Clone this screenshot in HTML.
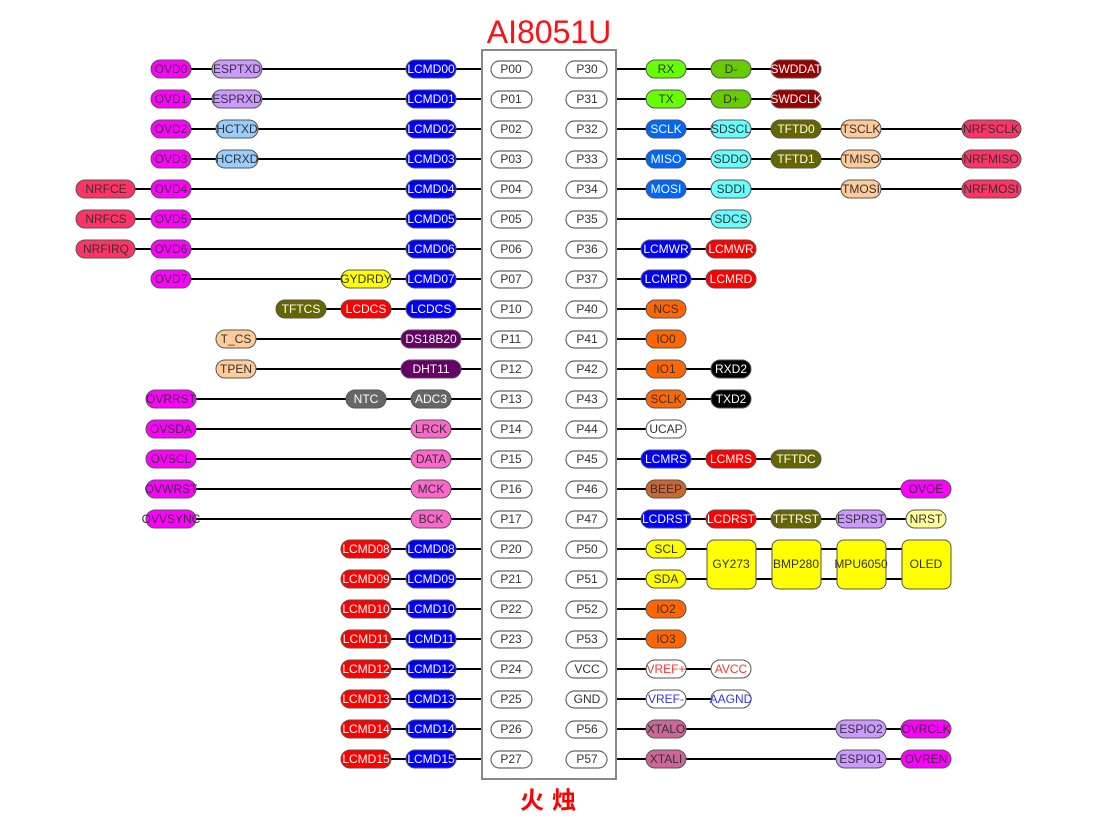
<!DOCTYPE html>
<html><head><meta charset="utf-8"><style>
html,body{margin:0;padding:0;background:#fff;}
svg{display:block;}
text{font-family:"Liberation Sans",Arial,sans-serif;font-size:12px;text-anchor:middle;dominant-baseline:central;}
.p rect{stroke:#555;stroke-width:1;}
.l{stroke:#000;stroke-width:2;}
</style></head><body>
<svg width="1103" height="827" viewBox="0 0 1103 827" xmlns="http://www.w3.org/2000/svg">
<text x="549" y="32" style="font-size:32px;fill:#ff1010">AI8051U</text>
<text x="552" y="798" style="font-size:24px;font-weight:bold;fill:#ff0000;letter-spacing:8px;font-family:'Noto Sans CJK SC','WenQuanYi Zen Hei',sans-serif">火烛</text>

<!-- left lines -->
<g class="l">
<line x1="171" y1="69" x2="482" y2="69"/>
<line x1="171" y1="99" x2="482" y2="99"/>
<line x1="171" y1="129" x2="482" y2="129"/>
<line x1="171" y1="159" x2="482" y2="159"/>
<line x1="106" y1="189" x2="482" y2="189"/>
<line x1="106" y1="219" x2="482" y2="219"/>
<line x1="106" y1="249" x2="482" y2="249"/>
<line x1="171" y1="279" x2="482" y2="279"/>
<line x1="301" y1="309" x2="482" y2="309"/>
<line x1="236" y1="339" x2="482" y2="339"/>
<line x1="236" y1="369" x2="482" y2="369"/>
<line x1="171" y1="399" x2="482" y2="399"/>
<line x1="171" y1="429" x2="482" y2="429"/>
<line x1="171" y1="459" x2="482" y2="459"/>
<line x1="171" y1="489" x2="482" y2="489"/>
<line x1="171" y1="519" x2="482" y2="519"/>
<line x1="366" y1="549" x2="482" y2="549"/>
<line x1="366" y1="579" x2="482" y2="579"/>
<line x1="366" y1="609" x2="482" y2="609"/>
<line x1="366" y1="639" x2="482" y2="639"/>
<line x1="366" y1="669" x2="482" y2="669"/>
<line x1="366" y1="699" x2="482" y2="699"/>
<line x1="366" y1="729" x2="482" y2="729"/>
<line x1="366" y1="759" x2="482" y2="759"/>
<!-- right -->
<line x1="616" y1="69" x2="796" y2="69"/>
<line x1="616" y1="99" x2="796" y2="99"/>
<line x1="616" y1="129" x2="991" y2="129"/>
<line x1="616" y1="159" x2="991" y2="159"/>
<line x1="616" y1="189" x2="991" y2="189"/>
<line x1="616" y1="219" x2="731" y2="219"/>
<line x1="616" y1="249" x2="731" y2="249"/>
<line x1="616" y1="279" x2="731" y2="279"/>
<line x1="616" y1="309" x2="666" y2="309"/>
<line x1="616" y1="339" x2="666" y2="339"/>
<line x1="616" y1="369" x2="731" y2="369"/>
<line x1="616" y1="399" x2="731" y2="399"/>
<line x1="616" y1="429" x2="666" y2="429"/>
<line x1="616" y1="459" x2="796" y2="459"/>
<line x1="616" y1="489" x2="926" y2="489"/>
<line x1="616" y1="519" x2="926" y2="519"/>
<line x1="616" y1="549" x2="940" y2="549"/>
<line x1="616" y1="579" x2="940" y2="579"/>
<line x1="616" y1="609" x2="666" y2="609"/>
<line x1="616" y1="639" x2="666" y2="639"/>
<line x1="616" y1="669" x2="731" y2="669"/>
<line x1="616" y1="699" x2="731" y2="699"/>
<line x1="616" y1="729" x2="926" y2="729"/>
<line x1="616" y1="759" x2="926" y2="759"/>
</g>

<!-- chip -->
<rect x="482" y="50" width="134" height="729" fill="#fff" stroke="#888" stroke-width="2"/>
<g fill="#fff" stroke="#666" stroke-width="1.2">
<rect x="491" y="61" width="41" height="17" rx="8.5"/><rect x="566" y="61" width="41" height="17" rx="8.5"/>
<rect x="491" y="91" width="41" height="17" rx="8.5"/><rect x="566" y="91" width="41" height="17" rx="8.5"/>
<rect x="491" y="121" width="41" height="17" rx="8.5"/><rect x="566" y="121" width="41" height="17" rx="8.5"/>
<rect x="491" y="151" width="41" height="17" rx="8.5"/><rect x="566" y="151" width="41" height="17" rx="8.5"/>
<rect x="491" y="181" width="41" height="17" rx="8.5"/><rect x="566" y="181" width="41" height="17" rx="8.5"/>
<rect x="491" y="211" width="41" height="17" rx="8.5"/><rect x="566" y="211" width="41" height="17" rx="8.5"/>
<rect x="491" y="241" width="41" height="17" rx="8.5"/><rect x="566" y="241" width="41" height="17" rx="8.5"/>
<rect x="491" y="271" width="41" height="17" rx="8.5"/><rect x="566" y="271" width="41" height="17" rx="8.5"/>
<rect x="491" y="301" width="41" height="17" rx="8.5"/><rect x="566" y="301" width="41" height="17" rx="8.5"/>
<rect x="491" y="331" width="41" height="17" rx="8.5"/><rect x="566" y="331" width="41" height="17" rx="8.5"/>
<rect x="491" y="361" width="41" height="17" rx="8.5"/><rect x="566" y="361" width="41" height="17" rx="8.5"/>
<rect x="491" y="391" width="41" height="17" rx="8.5"/><rect x="566" y="391" width="41" height="17" rx="8.5"/>
<rect x="491" y="421" width="41" height="17" rx="8.5"/><rect x="566" y="421" width="41" height="17" rx="8.5"/>
<rect x="491" y="451" width="41" height="17" rx="8.5"/><rect x="566" y="451" width="41" height="17" rx="8.5"/>
<rect x="491" y="481" width="41" height="17" rx="8.5"/><rect x="566" y="481" width="41" height="17" rx="8.5"/>
<rect x="491" y="511" width="41" height="17" rx="8.5"/><rect x="566" y="511" width="41" height="17" rx="8.5"/>
<rect x="491" y="541" width="41" height="17" rx="8.5"/><rect x="566" y="541" width="41" height="17" rx="8.5"/>
<rect x="491" y="571" width="41" height="17" rx="8.5"/><rect x="566" y="571" width="41" height="17" rx="8.5"/>
<rect x="491" y="601" width="41" height="17" rx="8.5"/><rect x="566" y="601" width="41" height="17" rx="8.5"/>
<rect x="491" y="631" width="41" height="17" rx="8.5"/><rect x="566" y="631" width="41" height="17" rx="8.5"/>
<rect x="491" y="661" width="41" height="17" rx="8.5"/><rect x="566" y="661" width="41" height="17" rx="8.5"/>
<rect x="491" y="691" width="41" height="17" rx="8.5"/><rect x="566" y="691" width="41" height="17" rx="8.5"/>
<rect x="491" y="721" width="41" height="17" rx="8.5"/><rect x="566" y="721" width="41" height="17" rx="8.5"/>
<rect x="491" y="751" width="41" height="17" rx="8.5"/><rect x="566" y="751" width="41" height="17" rx="8.5"/>
</g>
<g fill="#333">
<text x="511" y="69">P00</text><text x="587" y="69">P30</text>
<text x="511" y="99">P01</text><text x="587" y="99">P31</text>
<text x="511" y="129">P02</text><text x="587" y="129">P32</text>
<text x="511" y="159">P03</text><text x="587" y="159">P33</text>
<text x="511" y="189">P04</text><text x="587" y="189">P34</text>
<text x="511" y="219">P05</text><text x="587" y="219">P35</text>
<text x="511" y="249">P06</text><text x="587" y="249">P36</text>
<text x="511" y="279">P07</text><text x="587" y="279">P37</text>
<text x="511" y="309">P10</text><text x="587" y="309">P40</text>
<text x="511" y="339">P11</text><text x="587" y="339">P41</text>
<text x="511" y="369">P12</text><text x="587" y="369">P42</text>
<text x="511" y="399">P13</text><text x="587" y="399">P43</text>
<text x="511" y="429">P14</text><text x="587" y="429">P44</text>
<text x="511" y="459">P15</text><text x="587" y="459">P45</text>
<text x="511" y="489">P16</text><text x="587" y="489">P46</text>
<text x="511" y="519">P17</text><text x="587" y="519">P47</text>
<text x="511" y="549">P20</text><text x="587" y="549">P50</text>
<text x="511" y="579">P21</text><text x="587" y="579">P51</text>
<text x="511" y="609">P22</text><text x="587" y="609">P52</text>
<text x="511" y="639">P23</text><text x="587" y="639">P53</text>
<text x="511" y="669">P24</text><text x="587" y="669">VCC</text>
<text x="511" y="699">P25</text><text x="587" y="699">GND</text>
<text x="511" y="729">P26</text><text x="587" y="729">P56</text>
<text x="511" y="759">P27</text><text x="587" y="759">P57</text>
</g>

<!-- boxes -->
<g stroke="#555" fill="#ffff00">
<rect x="707" y="540" width="49" height="49" rx="7"/>
<rect x="772" y="540" width="49" height="49" rx="7"/>
<rect x="837" y="540" width="49" height="49" rx="7"/>
<rect x="902" y="540" width="49" height="49" rx="7"/>
</g>
<g fill="#333"><text x="731" y="564">GY273</text><text x="796" y="564">BMP280</text><text x="861" y="564">MPU6050</text><text x="926" y="564">OLED</text></g>

<!-- pills -->
<g class="p">
<!-- left LCMD00-07 -->
<rect x="406" y="60" width="50" height="18" rx="9" fill="#0000ff"/>
<rect x="406" y="90" width="50" height="18" rx="9" fill="#0000ff"/>
<rect x="406" y="120" width="50" height="18" rx="9" fill="#0000ff"/>
<rect x="406" y="150" width="50" height="18" rx="9" fill="#0000ff"/>
<rect x="406" y="180" width="50" height="18" rx="9" fill="#0000ff"/>
<rect x="406" y="210" width="50" height="18" rx="9" fill="#0000ff"/>
<rect x="406" y="240" width="50" height="18" rx="9" fill="#0000ff"/>
<rect x="406" y="270" width="50" height="18" rx="9" fill="#0000ff"/>
<rect x="212" y="60" width="50" height="18" rx="9" fill="#cc99ff"/>
<rect x="212" y="90" width="50" height="18" rx="9" fill="#cc99ff"/>
<rect x="216" y="120" width="42" height="18" rx="9" fill="#99ccff"/>
<rect x="216" y="150" width="42" height="18" rx="9" fill="#99ccff"/>
<rect x="151" y="60" width="40" height="18" rx="9" fill="#ff00ff"/>
<rect x="151" y="90" width="40" height="18" rx="9" fill="#ff00ff"/>
<rect x="151" y="120" width="40" height="18" rx="9" fill="#ff00ff"/>
<rect x="151" y="150" width="40" height="18" rx="9" fill="#ff00ff"/>
<rect x="151" y="180" width="40" height="18" rx="9" fill="#ff00ff"/>
<rect x="151" y="210" width="40" height="18" rx="9" fill="#ff00ff"/>
<rect x="151" y="240" width="40" height="18" rx="9" fill="#ff00ff"/>
<rect x="151" y="270" width="40" height="18" rx="9" fill="#ff00ff"/>
<rect x="76" y="180" width="59" height="18" rx="9" fill="#ff3366"/>
<rect x="76" y="210" width="59" height="18" rx="9" fill="#ff3366"/>
<rect x="76" y="240" width="59" height="18" rx="9" fill="#ff3366"/>
<rect x="341" y="270" width="50" height="18" rx="9" fill="#ffff00"/>
<rect x="406" y="300" width="50" height="18" rx="9" fill="#0000ff"/>
<rect x="341" y="300" width="50" height="18" rx="9" fill="#ff0000"/>
<rect x="276" y="300" width="50" height="18" rx="9" fill="#666600"/>
<rect x="401" y="330" width="60" height="18" rx="9" fill="#660066"/>
<rect x="401" y="360" width="60" height="18" rx="9" fill="#660066"/>
<rect x="216" y="330" width="40" height="18" rx="9" fill="#ffcc99"/>
<rect x="216" y="360" width="40" height="18" rx="9" fill="#ffcc99"/>
<rect x="411" y="390" width="40" height="18" rx="9" fill="#666666"/>
<rect x="346" y="390" width="40" height="18" rx="9" fill="#666666"/>
<rect x="411" y="420" width="40" height="18" rx="9" fill="#ff66cc"/>
<rect x="411" y="450" width="40" height="18" rx="9" fill="#ff66cc"/>
<rect x="411" y="480" width="40" height="18" rx="9" fill="#ff66cc"/>
<rect x="411" y="510" width="40" height="18" rx="9" fill="#ff66cc"/>
<rect x="146" y="390" width="50" height="18" rx="9" fill="#ff00ff"/>
<rect x="146" y="420" width="50" height="18" rx="9" fill="#ff00ff"/>
<rect x="146" y="450" width="50" height="18" rx="9" fill="#ff00ff"/>
<rect x="146" y="480" width="50" height="18" rx="9" fill="#ff00ff"/>
<rect x="146" y="510" width="50" height="18" rx="9" fill="#ff00ff"/>
<rect x="406" y="540" width="50" height="18" rx="9" fill="#0000ff"/>
<rect x="406" y="570" width="50" height="18" rx="9" fill="#0000ff"/>
<rect x="406" y="600" width="50" height="18" rx="9" fill="#0000ff"/>
<rect x="406" y="630" width="50" height="18" rx="9" fill="#0000ff"/>
<rect x="406" y="660" width="50" height="18" rx="9" fill="#0000ff"/>
<rect x="406" y="690" width="50" height="18" rx="9" fill="#0000ff"/>
<rect x="406" y="720" width="50" height="18" rx="9" fill="#0000ff"/>
<rect x="406" y="750" width="50" height="18" rx="9" fill="#0000ff"/>
<rect x="341" y="540" width="50" height="18" rx="9" fill="#ff0000"/>
<rect x="341" y="570" width="50" height="18" rx="9" fill="#ff0000"/>
<rect x="341" y="600" width="50" height="18" rx="9" fill="#ff0000"/>
<rect x="341" y="630" width="50" height="18" rx="9" fill="#ff0000"/>
<rect x="341" y="660" width="50" height="18" rx="9" fill="#ff0000"/>
<rect x="341" y="690" width="50" height="18" rx="9" fill="#ff0000"/>
<rect x="341" y="720" width="50" height="18" rx="9" fill="#ff0000"/>
<rect x="341" y="750" width="50" height="18" rx="9" fill="#ff0000"/>
<!-- right -->
<rect x="646" y="60" width="40" height="18" rx="9" fill="#66ff00"/>
<rect x="646" y="90" width="40" height="18" rx="9" fill="#66ff00"/>
<rect x="711" y="60" width="40" height="18" rx="9" fill="#66cc00"/>
<rect x="711" y="90" width="40" height="18" rx="9" fill="#66cc00"/>
<rect x="771" y="60" width="50" height="18" rx="9" fill="#990000"/>
<rect x="771" y="90" width="50" height="18" rx="9" fill="#990000"/>
<rect x="646" y="120" width="40" height="18" rx="9" fill="#0066ff"/>
<rect x="646" y="150" width="40" height="18" rx="9" fill="#0066ff"/>
<rect x="646" y="180" width="40" height="18" rx="9" fill="#0066ff"/>
<rect x="711" y="120" width="40" height="18" rx="9" fill="#66ffff"/>
<rect x="711" y="150" width="40" height="18" rx="9" fill="#66ffff"/>
<rect x="711" y="180" width="40" height="18" rx="9" fill="#66ffff"/>
<rect x="711" y="210" width="40" height="18" rx="9" fill="#66ffff"/>
<rect x="771" y="120" width="50" height="18" rx="9" fill="#666600"/>
<rect x="771" y="150" width="50" height="18" rx="9" fill="#666600"/>
<rect x="841" y="120" width="40" height="18" rx="9" fill="#ffcc99"/>
<rect x="841" y="150" width="40" height="18" rx="9" fill="#ffcc99"/>
<rect x="841" y="180" width="40" height="18" rx="9" fill="#ffcc99"/>
<rect x="962" y="120" width="59" height="18" rx="9" fill="#ff3366"/>
<rect x="962" y="150" width="59" height="18" rx="9" fill="#ff3366"/>
<rect x="962" y="180" width="59" height="18" rx="9" fill="#ff3366"/>
<rect x="641" y="240" width="50" height="18" rx="9" fill="#0000ff"/>
<rect x="641" y="270" width="50" height="18" rx="9" fill="#0000ff"/>
<rect x="706" y="240" width="50" height="18" rx="9" fill="#ff0000"/>
<rect x="706" y="270" width="50" height="18" rx="9" fill="#ff0000"/>
<rect x="646" y="300" width="40" height="18" rx="9" fill="#ff6600"/>
<rect x="646" y="330" width="40" height="18" rx="9" fill="#ff6600"/>
<rect x="646" y="360" width="40" height="18" rx="9" fill="#ff6600"/>
<rect x="646" y="390" width="40" height="18" rx="9" fill="#ff6600"/>
<rect x="711" y="360" width="40" height="18" rx="9" fill="#000000"/>
<rect x="711" y="390" width="40" height="18" rx="9" fill="#000000"/>
<rect x="646" y="420" width="40" height="18" rx="9" fill="#ffffff"/>
<rect x="641" y="450" width="50" height="18" rx="9" fill="#0000ff"/>
<rect x="706" y="450" width="50" height="18" rx="9" fill="#ff0000"/>
<rect x="771" y="450" width="50" height="18" rx="9" fill="#666600"/>
<rect x="646" y="480" width="40" height="18" rx="9" fill="#cc6633"/>
<rect x="901" y="480" width="50" height="18" rx="9" fill="#ff00ff"/>
<rect x="641" y="510" width="50" height="18" rx="9" fill="#0000ff"/>
<rect x="706" y="510" width="50" height="18" rx="9" fill="#ff0000"/>
<rect x="771" y="510" width="50" height="18" rx="9" fill="#666600"/>
<rect x="836" y="510" width="50" height="18" rx="9" fill="#cc99ff"/>
<rect x="906" y="510" width="40" height="18" rx="9" fill="#ffff99"/>
<rect x="646" y="540" width="40" height="18" rx="9" fill="#ffff00"/>
<rect x="646" y="570" width="40" height="18" rx="9" fill="#ffff00"/>
<rect x="646" y="600" width="40" height="18" rx="9" fill="#ff6600"/>
<rect x="646" y="630" width="40" height="18" rx="9" fill="#ff6600"/>
<rect x="646" y="660" width="40" height="18" rx="9" fill="#ffffff"/>
<rect x="711" y="660" width="40" height="18" rx="9" fill="#ffffff"/>
<rect x="646" y="690" width="40" height="18" rx="9" fill="#ffffff"/>
<rect x="711" y="690" width="40" height="18" rx="9" fill="#ffffff"/>
<rect x="646" y="720" width="40" height="18" rx="9" fill="#cc6699"/>
<rect x="646" y="750" width="40" height="18" rx="9" fill="#cc6699"/>
<rect x="836" y="720" width="50" height="18" rx="9" fill="#cc99ff"/>
<rect x="836" y="750" width="50" height="18" rx="9" fill="#cc99ff"/>
<rect x="901" y="720" width="50" height="18" rx="9" fill="#ff00ff"/>
<rect x="901" y="750" width="50" height="18" rx="9" fill="#ff00ff"/>
</g>

<!-- labels white -->
<g fill="#fff">
<text x="431" y="69">LCMD00</text><text x="431" y="99">LCMD01</text><text x="431" y="129">LCMD02</text><text x="431" y="159">LCMD03</text>
<text x="431" y="189">LCMD04</text><text x="431" y="219">LCMD05</text><text x="431" y="249">LCMD06</text><text x="431" y="279">LCMD07</text>
<text x="431" y="309">LCDCS</text><text x="366" y="309">LCDCS</text><text x="301" y="309">TFTCS</text>
<text x="431" y="339">DS18B20</text><text x="431" y="369">DHT11</text>
<text x="431" y="399">ADC3</text><text x="366" y="399">NTC</text>
<text x="431" y="549">LCMD08</text><text x="431" y="579">LCMD09</text><text x="431" y="609">LCMD10</text><text x="431" y="639">LCMD11</text>
<text x="431" y="669">LCMD12</text><text x="431" y="699">LCMD13</text><text x="431" y="729">LCMD14</text><text x="431" y="759">LCMD15</text>
<text x="366" y="549">LCMD08</text><text x="366" y="579">LCMD09</text><text x="366" y="609">LCMD10</text><text x="366" y="639">LCMD11</text>
<text x="366" y="669">LCMD12</text><text x="366" y="699">LCMD13</text><text x="366" y="729">LCMD14</text><text x="366" y="759">LCMD15</text>
<text x="796" y="69">SWDDAT</text><text x="796" y="99">SWDCLK</text>
<text x="666" y="129">SCLK</text><text x="666" y="159">MISO</text><text x="666" y="189">MOSI</text>
<text x="796" y="129">TFTD0</text><text x="796" y="159">TFTD1</text>
<text x="666" y="249">LCMWR</text><text x="731" y="249">LCMWR</text><text x="666" y="279">LCMRD</text><text x="731" y="279">LCMRD</text>
<text x="731" y="369">RXD2</text><text x="731" y="399">TXD2</text>
<text x="666" y="459">LCMRS</text><text x="731" y="459">LCMRS</text><text x="796" y="459">TFTDC</text>
<text x="666" y="519">LCDRST</text><text x="731" y="519">LCDRST</text><text x="796" y="519">TFTRST</text>
</g>
<g fill="#333">
<text x="237" y="69">ESPTXD</text><text x="237" y="99">ESPRXD</text><text x="237" y="129">HCTXD</text><text x="237" y="159">HCRXD</text>
<text x="171" y="69">OVD0</text><text x="171" y="99">OVD1</text><text x="171" y="129">OVD2</text><text x="171" y="159">OVD3</text>
<text x="171" y="189">OVD4</text><text x="171" y="219">OVD5</text><text x="171" y="249">OVD6</text><text x="171" y="279">OVD7</text>
<text x="106" y="189">NRFCE</text><text x="106" y="219">NRFCS</text><text x="106" y="249">NRFIRQ</text>
<text x="366" y="279">GYDRDY</text>
<text x="236" y="339">T_CS</text><text x="236" y="369">TPEN</text>
<text x="431" y="429">LRCK</text><text x="431" y="459">DATA</text><text x="431" y="489">MCK</text><text x="431" y="519">BCK</text>
<text x="171" y="399">OVRRST</text><text x="171" y="429">OVSDA</text><text x="171" y="459">OVSCL</text><text x="171" y="489">OVWRST</text><text x="171" y="519">OVVSYNC</text>
<text x="666" y="69">RX</text><text x="666" y="99">TX</text><text x="731" y="69">D-</text><text x="731" y="99">D+</text>
<text x="731" y="129">SDSCL</text><text x="731" y="159">SDDO</text><text x="731" y="189">SDDI</text><text x="731" y="219">SDCS</text>
<text x="861" y="129">TSCLK</text><text x="861" y="159">TMISO</text><text x="861" y="189">TMOSI</text>
<text x="991" y="129">NRFSCLK</text><text x="991" y="159">NRFMISO</text><text x="991" y="189">NRFMOSI</text>
<text x="666" y="309">NCS</text><text x="666" y="339">IO0</text><text x="666" y="369">IO1</text><text x="666" y="399">SCLK</text>
<text x="666" y="429">UCAP</text>
<text x="666" y="489">BEEP</text><text x="926" y="489">OVOE</text>
<text x="861" y="519">ESPRST</text><text x="926" y="519">NRST</text>
<text x="666" y="549">SCL</text><text x="666" y="579">SDA</text>
<text x="666" y="609">IO2</text><text x="666" y="639">IO3</text>
<text x="666" y="729">XTALO</text><text x="666" y="759">XTALI</text>
<text x="861" y="729">ESPIO2</text><text x="861" y="759">ESPIO1</text>
<text x="926" y="729">OVRCLK</text><text x="926" y="759">OVREN</text>
</g>
<g fill="#ff3333"><text x="666" y="669">VREF+</text><text x="731" y="669">AVCC</text></g>
<g fill="#3333ff"><text x="666" y="699">VREF-</text><text x="731" y="699">AAGND</text></g>
</svg>
</body></html>
